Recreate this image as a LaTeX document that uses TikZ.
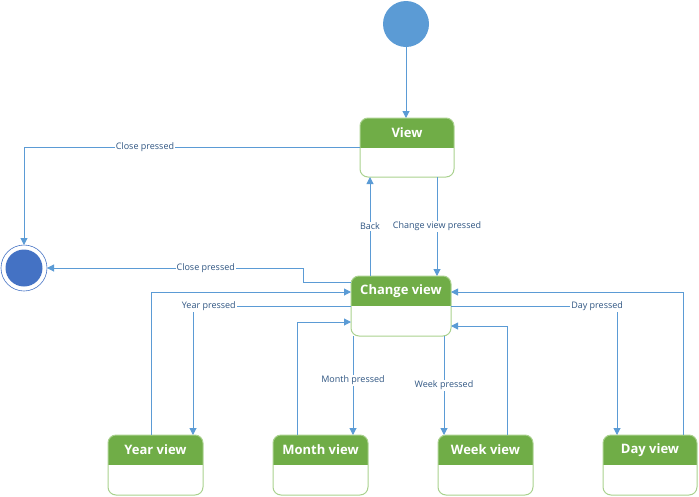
\documentclass[tikz,border=0pt]{standalone}
\usepackage{fontspec}
\setmainfont{Open Sans}
\usetikzlibrary{arrows.meta,positioning,calc}
\definecolor{ln}{RGB}{91,155,213}
\definecolor{hd}{RGB}{112,173,71}
\definecolor{bd}{RGB}{169,209,142}
\definecolor{fn}{RGB}{68,114,196}
\definecolor{tx}{RGB}{47,85,130}

% state box: green header, white body
\newcommand{\statebox}[5][]{%
  \node[stbody,#1] (#2) at (#3,#4) {};
  \begin{scope}
    \clip[rounded corners=8pt] (#2.south west) rectangle (#2.north east);
    \fill[hd] (#2.north west) rectangle (#2.east);
  \end{scope}
  \draw[bd, line width=1pt, rounded corners=8pt] (#2.south west) rectangle (#2.north east);
  \node[sttext] (#2-t) at ($(#2.north)!0.5!(#2.center)$) {#5};
}

\begin{document}
\begin{tikzpicture}[x=1pt, y=-1pt,
    stbody/.style={rectangle, minimum width=94pt, minimum height=59pt, inner sep=0pt, outer sep=0pt},
    sttext/.style={font=\fontsize{13}{15}\selectfont\bfseries, text=white, inner sep=0pt},
    init/.style={circle, fill=ln, minimum size=46pt, inner sep=0pt, outer sep=0pt},
    fin/.style={circle, draw=fn, line width=0.6pt, fill=white, minimum size=46pt, inner sep=0pt, outer sep=0pt},
    arr/.style={-{Triangle[length=7pt,width=7pt]}, line width=1pt, ln},
    lbl/.style={font=\fontsize{9}{10}\selectfont, text=tx, fill=white, inner sep=1pt},
]
\useasboundingbox (0,0) rectangle (699,496);

% === STATES ===
\node[init] (start) at (406,24) {};
\node[fin] (end) at (24,268) {};
\fill[fn] (end.center) circle (18.5pt);

\statebox{view}{407}{147.5}{View}
\statebox[minimum width=100pt, minimum height=60pt]{cv}{401}{306}{Change view}
\statebox[minimum width=95pt, minimum height=60pt]{year}{155.5}{465}{Year view}
\statebox[minimum width=95pt, minimum height=60pt]{month}{320.5}{465}{Month view}
\statebox[minimum width=95pt, minimum height=60pt]{week}{485.5}{465}{Week view}
\statebox[minimum width=94pt, minimum height=60pt]{day}{650}{465}{Day view}

% === TRANSITIONS ===
\draw[arr] (start.south) -- (start.south |- view.north);
\draw[arr] (view.west) -| node[lbl, pos=0.32] {Close pressed} (end.north);
\draw[arr] ([xshift=-31pt]cv.north) -- node[lbl] {Back} ([xshift=-37pt]view.south);
\draw[arr] ([xshift=30pt]view.south) -- node[lbl] {Change view pressed} ([xshift=36pt]cv.north);
\draw[arr] ([yshift=24pt]cv.west) -- ([xshift=-48pt,yshift=24pt]cv.west) |- node[lbl, pos=0.69] {Close pressed} (end.east);

% year
\draw[arr] ([xshift=-4.5pt]year.north) |- ([yshift=14pt]cv.west);
\draw[arr] (cv.west) -| node[lbl, pos=0.45] {Year pressed} ([xshift=37.5pt]year.north);
% month
\draw[arr] ([xshift=-23.5pt]month.north) |- ([yshift=-16pt]cv.west);
\draw[arr] ([xshift=-48pt]cv.south) -- node[lbl, pos=0.45] {Month pressed} ([xshift=32.5pt]month.north);
% week
\draw[arr] ([xshift=43pt]cv.south) -- node[lbl] {Week pressed} ([xshift=-41.5pt]week.north);
\draw[arr] ([xshift=21.5pt]week.north) |- ([yshift=-20pt]cv.east);
% day
\draw[arr] (cv.east) -| node[lbl, pos=0.44] {Day pressed} ([xshift=-33pt]day.north);
\draw[arr] ([xshift=33pt]day.north) |- ([yshift=14pt]cv.east);

\end{tikzpicture}
\end{document}
